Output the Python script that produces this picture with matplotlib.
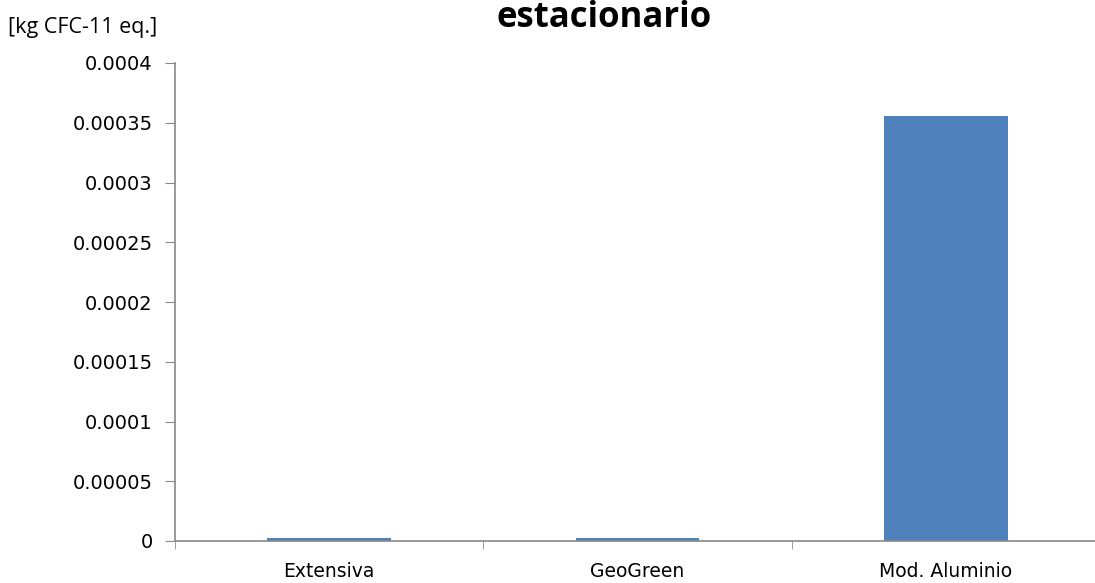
import matplotlib
matplotlib.use("Agg")
from matplotlib import pyplot as plt

# datos
categorias = ['Extensiva', 'GeoGreen', 'Mod. Aluminio']
valores = [2.5e-6, 2.5e-6, 0.000356]
yticks = [0, 0.00005, 0.0001, 0.00015, 0.0002, 0.00025, 0.0003, 0.00035, 0.0004]
ytick_labels = ['0', '0.00005', '0.0001', '0.00015', '0.0002', '0.00025', '0.0003', '0.00035', '0.0004']

fig = plt.figure(figsize=(10.95, 5.83), dpi=100)
ax = fig.add_axes([175/1095, 1 - 541/583, 925/1095, (541 - 63)/583])

x = list(range(len(categorias)))
ax.bar(x, valores, width=0.4, color='#4F81BD')

ax.set_xlim(-0.5, 2.5)
ax.set_ylim(0, 0.0004)
ax.set_yticks(yticks)
ax.set_yticklabels(ytick_labels, fontsize=14, family='DejaVu Sans')
ax.set_xticks(x)
ax.set_xticklabels(categorias, fontsize=13.5, family='Liberation Sans Narrow')
ax.set_xticks([-0.5, 0.5, 1.5], minor=True)

for s in ['top', 'right']:
    ax.spines[s].set_visible(False)
for s in ['left', 'bottom']:
    ax.spines[s].set_color('#888888')
    ax.spines[s].set_linewidth(1.2)

ax.tick_params(axis='y', direction='out', length=7, color='#888888', pad=9)
ax.tick_params(axis='x', which='major', length=0, pad=15)
ax.tick_params(axis='x', which='minor', length=6, color='#888888')

fig.text(8/1095, 1 - 33/583, '[kg CFC-11 eq.]', fontsize=15.5, family='Open Sans')
fig.text(604/1095, 1 - 27/583, 'estacionario', fontsize=25, fontweight='bold',
         family='Open Sans', ha='center', va='baseline')

fig.savefig('out.png', dpi=100)
